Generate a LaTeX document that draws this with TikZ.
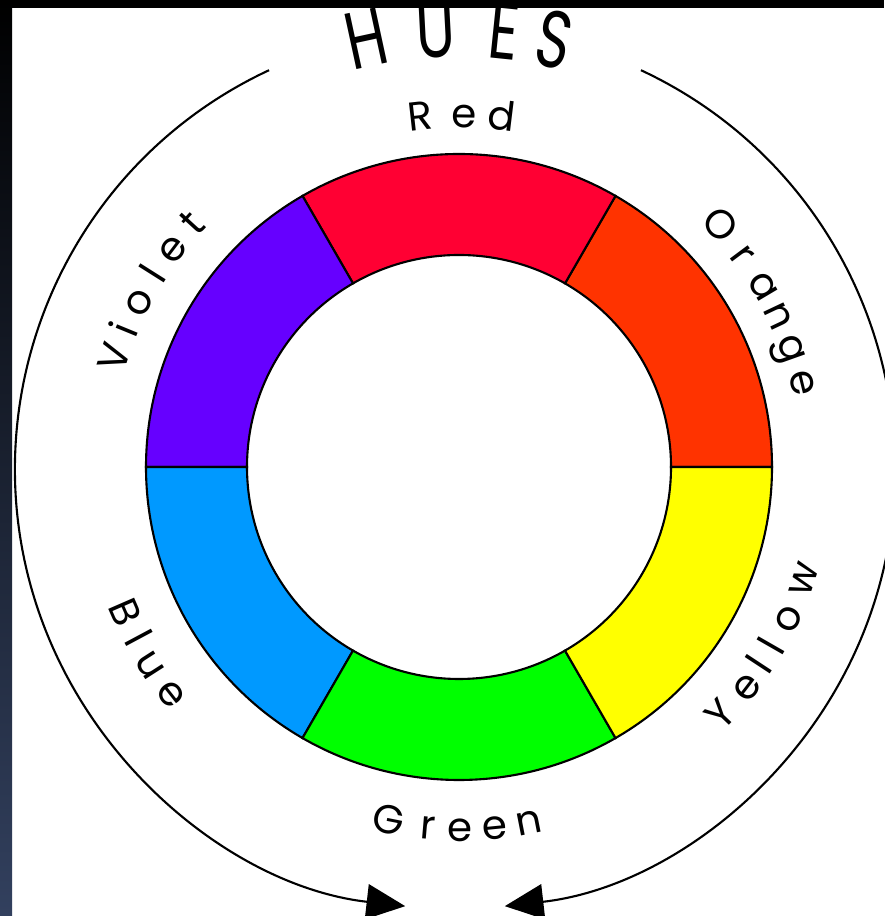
\documentclass[tikz,border=0pt]{standalone}
\usepackage{fontspec}
\setmainfont{Poppins}
\newfontfamily\huesfont[FakeStretch=0.72]{Poppins}
\usetikzlibrary{arrows.meta, calc}

\definecolor{hueRed}{RGB}{255,0,51}
\definecolor{hueOrange}{RGB}{255,51,0}
\definecolor{hueYellow}{RGB}{255,255,0}
\definecolor{hueGreen}{RGB}{0,255,0}
\definecolor{hueBlue}{RGB}{0,153,255}
\definecolor{hueViolet}{RGB}{102,0,255}
\definecolor{edgeNavy}{RGB}{50,64,94}

\begin{document}
\begin{tikzpicture}[x=0.01cm, y=0.01cm,
    ringseg/.style={draw=black, line width=0.6pt},
    outerarc/.style={line width=0.6pt, -{Triangle[length=11pt, width=10pt]}},
    toplbl/.style={anchor=base, inner sep=0pt, font=\fontsize{11.5}{12}\selectfont},
    botlbl/.style={toplbl},
    hueslbl/.style={anchor=base, inner sep=0pt, font=\huesfont\fontsize{23}{23}\selectfont}]
  \useasboundingbox (0,0) rectangle (884,916);
  \fill[white] (0,0) rectangle (884,916);

  \coordinate (hub) at (459,449);
  \coordinate (rim) at (455,447);

  % colour ring, one 60 degree sector per hue (counter-clockwise from east)
  \foreach \col [count=\i from 0] in {hueOrange,hueRed,hueViolet,hueBlue,hueGreen,hueYellow} {
    \pgfmathsetmacro\sa{\i*60}
    \filldraw[ringseg, fill=\col] ($(hub)+(\sa:313)$) arc[start angle=\sa, end angle=\sa+60, radius=313]
      -- ($(hub)+(\sa+60:212)$) arc[start angle=\sa+60, end angle=\sa, radius=212] -- cycle;
  }

  % hue names, letter by letter along the ring (tops outward above, inward below)
  \foreach \ch/\a [count=\i] in {R/96.4,e/89.2,d/83.0}
    \node[toplbl, rotate=\a-90] (red-\i) at ($(hub)+(\a:339)$) {\ch};
  \foreach \ch/\a [count=\i] in {O/42.8,r/36.7,a/30.7,n/25.3,g/19.6,e/13.7}
    \node[toplbl, rotate=\a-90] (orange-\i) at ($(hub)+(\a:342)$) {\ch};
  \foreach \ch/\a [count=\i] in {V/162.3,i/157.7,o/152.8,l/147.7,e/142.8,t/137.5}
    \node[toplbl, rotate=\a-90] (violet-\i) at ($(hub)+(\a:348)$) {\ch};
  \foreach \ch/\a [count=\i] in {G/-101.2,r/-94.9,e/-89.8,e/-84.3,n/-78.9}
    \node[botlbl, rotate=\a+90] (green-\i) at ($(hub)+(\a:374)$) {\ch};
  \foreach \ch/\a [count=\i] in {Y/-43.4,e/-37.5,l/-33.3,l/-29.8,o/-24.7,w/-18.1}
    \node[botlbl, rotate=\a+90] (yellow-\i) at ($(hub)+(\a:374)$) {\ch};
  \foreach \ch/\a [count=\i] in {B/-156.5,l/-151.9,u/-147.3,e/-141.7}
    \node[botlbl, rotate=\a+90] (blue-\i) at ($(hub)+(\a:378)$) {\ch};

  % title on the big circle
  \foreach \ch/\a [count=\i] in {H/102.2,U/93.0,E/84.1,S/77.4}
    \node[hueslbl, rotate=\a-90] (hues-\i) at ($(hub)+(\a:410)$) {\ch};

  % two big arcs meeting at the bottom
  \draw[outerarc] ($(rim)+(115:440)$) arc[start angle=115, end angle=263.5, radius=440];
  \draw[outerarc] ($(rim)+(65:440)$) arc[start angle=65, end angle=-83.5, radius=440];

  % dark frame, top and left
  \fill[black] (0,908) rectangle (884,916);
  \shade[top color=black, middle color=black, bottom color=edgeNavy] (0,0) rectangle (12,916);
\end{tikzpicture}
\end{document}
